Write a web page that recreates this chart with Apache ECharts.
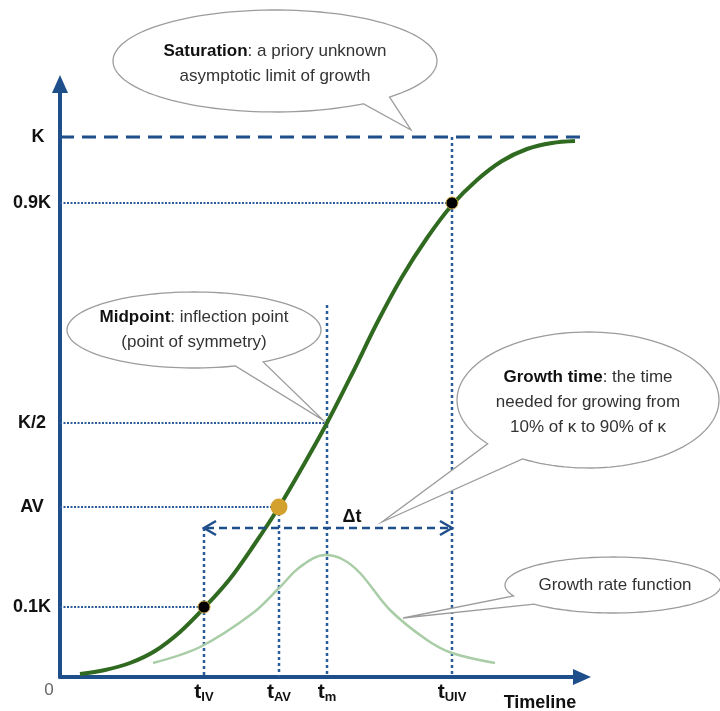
<!DOCTYPE html>
<html><head><meta charset="utf-8">
<script src="https://cdn.jsdelivr.net/npm/echarts@6/dist/echarts.min.js"></script>
<style>html,body{margin:0;padding:0;background:#fff}#c{width:720px;height:711px}</style>
</head><body><div id="c"></div>
<script>
// ---- data (schematic units) ----
const xTickValues = [0, 144, 219, 267, 392];
const xTickNames  = ['0', 'IV', 'AV', 'm', 'UIV'];
const yTickValues = [70, 170, 254, 474, 540];
const yTickLabels = ['0.1K', 'AV', 'K/2', '0.9K', 'K'];
const guideTops   = [149, 170, 372, 540];   // top of the vertical guide at each t
const deltaTLevel = 149;
const kLineEnd    = 525;
const milestonePoints = [[144, 70], [392, 474]];
const avPoint = [[219, 170]];
const logisticCurve = [[20,3],[45,7],[70,14],[95,26],[120,45],[144,69],[169,97],[194,132],[219,170],[243,211],
  [267,254],[292,303],[317,354],[342,400],[367,439],[392,472],[417,497],[442,516],[467,528],[492,534],[515,536]];
const rateCurve = [[93,14],[140,30],[193,64],[220,90],[240,110],[265,122],[282,118],[300,104],[330,67],[367,37],[392,24],[435,14]];

// ---- annotation layout ----
const FONT = '"Liberation Sans", Arial, Helvetica, sans-serif';
const BLUE = '#1f4f8b';
const DOT = '#2a5c9c';
const callouts = [
  {center:[215,616], rx:162, ry:51, gap:[45,57], tip:[351,547], dy:3,
   text:'{b|Saturation}{n|: a priory unknown}\n{n|asymptotic limit of growth}'},
  {center:[134,347], rx:127, ry:38, gap:[57,71], tip:[263,257], dy:0,
   text:'{b|Midpoint}{n|: inflection point}\n{n|(point of symmetry)}'},
  {center:[528,277], rx:131, ry:68, gap:[120,140], tip:[322,155], dy:2,
   text:'{b|Growth time}{n|: the time}\n{n|needed for growing from}\n{n|10% of κ to 90% of κ}'},
  {center:[553,92], rx:108, ry:28, gap:[137,157], tip:[343,59], dy:0, dx:2,
   text:'{n|Growth rate function}'}
];

function bubbleItem(params, api){
  const c = callouts[params.dataIndex];
  const ctr = api.coord(c.center), tip = api.coord(c.tip);
  const a1 = c.gap[0]*Math.PI/180, a2 = c.gap[1]*Math.PI/180;
  const span = 2*Math.PI - (a2 - a1);
  const pts = [];
  const n = 120;
  for (let i = 0; i <= n; i++) {
    const a = a2 + span*i/n;
    pts.push([ctr[0] + c.rx*Math.cos(a), ctr[1] + c.ry*Math.sin(a)]);
  }
  pts.push(tip);
  return {type:'group', children:[
    {type:'polygon', shape:{points:pts}, style:{fill:'#fff', stroke:'#9c9c9c', lineWidth:1.3}},
    {type:'text', x:ctr[0] + (c.dx||0), y:ctr[1] + c.dy, style:{
      text:c.text, align:'center', verticalAlign:'middle', textAlign:'center', textVerticalAlign:'middle',
      lineHeight:25, font:'17px '+FONT, fill:'#333',
      rich:{b:{font:'bold 17px '+FONT, fill:'#111', lineHeight:25}, n:{font:'17px '+FONT, fill:'#333', lineHeight:25}}
    }}
  ]};
}

function deltaItem(params, api){
  const p1 = api.coord([xTickValues[1], deltaTLevel]);
  const p2 = api.coord([xTickValues[4], deltaTLevel]);
  const st = {stroke:BLUE, lineWidth:2.5, fill:null};
  return {type:'group', children:[
    {type:'line', shape:{x1:p1[0]+2,y1:p1[1],x2:p2[0]-2,y2:p2[1]}, style:{stroke:BLUE, lineWidth:2.5, lineDash:[8,5]}},
    {type:'polyline', shape:{points:[[p1[0]+12,p1[1]-7],[p1[0],p1[1]],[p1[0]+12,p1[1]+7]]}, style:st},
    {type:'polyline', shape:{points:[[p2[0]-12,p2[1]-7],[p2[0],p2[1]],[p2[0]-12,p2[1]+7]]}, style:st},
    {type:'text', x:(p1[0]+p2[0])/2+24, y:p1[1]-11, style:{text:'Δt', font:'bold 18px '+FONT, fill:'#111',
      align:'center', verticalAlign:'middle', textAlign:'center', textVerticalAlign:'middle'}}
  ]};
}

const series = [];
// K dashed line
series.push({type:'line', data:[[0,yTickValues[4]],[kLineEnd,yTickValues[4]]], symbol:'none', clip:false, silent:true,
  lineStyle:{color:BLUE, width:3, type:[14,8]}, z:2});
// horizontal dotted guides
const hPairs = [[yTickValues[0], xTickValues[1]], [yTickValues[1], xTickValues[2]], [yTickValues[2], xTickValues[3]], [yTickValues[3], xTickValues[4]]];
hPairs.forEach(p => series.push({type:'line', data:[[0,p[0]],[p[1],p[0]]], symbol:'none', silent:true, clip:false,
  lineStyle:{color:DOT, width:2, type:[2,1.5]}, z:2}));
// vertical dotted guides
[1,2,3,4].forEach((k,i) => series.push({type:'line', data:[[xTickValues[k],guideTops[i]],[xTickValues[k],0]], symbol:'none', silent:true, clip:false,
  lineStyle:{color:DOT, width:2.5, type:[3,3]}, z:2}));
// callouts
series.push({type:'custom', renderItem:bubbleItem, data:callouts.map(c=>c.center), silent:true, z:3});
// growth rate curve
series.push({type:'line', data:rateCurve, smooth:0.35, symbol:'none', silent:true, clip:false,
  lineStyle:{color:'#a9cda6', width:2.5}, z:4});
// logistic curve
series.push({type:'line', data:logisticCurve, smooth:0.35, symbol:'none', silent:true, clip:false,
  lineStyle:{color:'#2f6a20', width:4}, z:5});
// points
series.push({type:'scatter', data:milestonePoints, symbolSize:12, silent:true,
  itemStyle:{color:'#000', borderColor:'#c9a13b', borderWidth:1, opacity:1}, z:6});
series.push({type:'scatter', data:avPoint, symbolSize:17, silent:true,
  itemStyle:{color:'#d3a22e', opacity:1}, z:6});
// delta t arrow
series.push({type:'custom', renderItem:deltaItem, data:[[xTickValues[1], deltaTLevel]], silent:true, z:6});

const chart = echarts.init(document.getElementById('c'));
chart.setOption({
  animation:false,
  backgroundColor:'#fff',
  grid:{left:60, right:138, top:84, bottom:34, containLabel:false, outerBoundsMode:'none'},
  xAxis:{type:'value', min:0, max:522, splitLine:{show:false}, axisTick:{show:false},
    axisLine:{onZero:false, lineStyle:{color:BLUE, width:4}, symbol:['none','triangle'], symbolSize:[16,18]},
    axisLabel:{customValues:xTickValues, margin:3,
      formatter:function(v){const i=xTickValues.indexOf(v); return i===0?'{z|0}':'{t|t}{s|'+xTickNames[i]+'}';},
      rich:{t:{fontFamily:FONT, fontWeight:'bold', fontSize:21, color:'#111'},
            s:{fontFamily:FONT, fontWeight:'bold', fontSize:13, color:'#111', padding:[11,0,0,0]},
            z:{fontFamily:FONT, fontSize:17, color:'#666', padding:[2,22,0,0]}}},
    name:'Timeline', nameLocation:'end', nameGap:-42, nameMoveOverlap:false,
    nameTextStyle:{fontFamily:FONT, fontWeight:'bold', fontSize:18, color:'#111', align:'center', verticalAlign:'top', lineHeight:52}
  },
  yAxis:{type:'value', min:0, max:593, splitLine:{show:false}, axisTick:{show:false},
    axisLine:{onZero:false, lineStyle:{color:BLUE, width:4}, symbol:['none','triangle'], symbolSize:[16,18]},
    axisLabel:{customValues:yTickValues, margin:28, align:'center',
      formatter:function(v){const l=yTickLabels[yTickValues.indexOf(v)]; return l==='K'?'{k|K}':l;},
      rich:{k:{fontFamily:FONT, fontWeight:'bold', fontSize:18, color:'#111', padding:[0,0,0,12]}},
      fontFamily:FONT, fontWeight:'bold', fontSize:18, color:'#111'}
  },
  series:series
});
</script></body></html>
